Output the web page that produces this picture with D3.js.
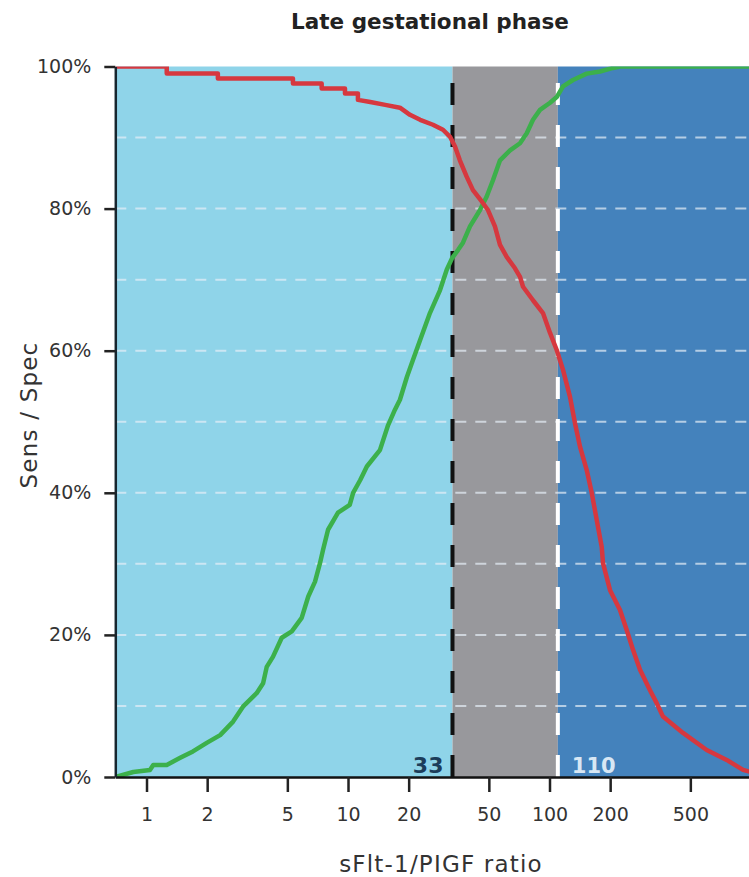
<!DOCTYPE html>
<html>
<head>
<meta charset="utf-8">
<script src="https://cdn.jsdelivr.net/npm/d3@7"></script>
<style>
  html, body { margin: 0; padding: 0; background: #fff; }
  svg { display: block; font-family: "DejaVu Sans", Verdana, sans-serif; }
</style>
</head>
<body>
<div id="chart"></div>
<script>
// values: sFlt-1/PlGF cut-off vs. share (%)
const redRatio = [0.7, 1.26, 1.26, 2.26, 2.26, 5.33, 5.33, 7.40, 7.40, 9.66, 9.66, 11.2, 11.2, 12.9, 15.3, 18.1, 20.3, 22.8, 26.4, 29.6,
  32.1, 34.0, 35.9, 38.8, 41.7, 46.1, 49.5, 53.6, 56.8, 61.3, 67.4, 71.4, 73.9, 82.8, 92.8, 100.6, 108.6, 116.7, 126.4, 133.8,
  141.7, 153.0, 162.0, 171.5, 181.6, 184.3, 199.7, 223.8, 241.6, 259.7, 281.3, 315.3, 340.4, 365.8, 459.8, 602.7, 757.6, 912.9, 1000]
const redPct = [100, 100, 99.0, 99.0, 98.3, 98.3, 97.6, 97.6, 96.9, 96.9, 96.2, 96.2, 95.3, 95.0, 94.6, 94.2, 93.2, 92.5, 91.8, 91.1,
  90.1, 88.7, 86.8, 84.5, 82.6, 81.0, 79.8, 77.5, 74.9, 73.2, 71.6, 70.4, 69.0, 67.1, 65.3, 62.5, 60.1, 57.3, 53.5, 49.8,
  46.5, 43.2, 40.0, 36.2, 32.4, 30.1, 26.3, 23.5, 20.7, 17.9, 15.1, 12.2, 10.4, 8.5, 6.2, 3.8, 2.4, 1.0, 0.7]

const greenRatio = [0.7, 0.86, 1.04, 1.08, 1.26, 1.47, 1.70, 1.99, 2.32, 2.69, 3.01, 3.52, 3.79, 3.95, 4.24, 4.69, 5.26, 5.89, 6.35, 6.86,
  7.26, 7.51, 7.96, 8.92, 10.2, 10.6, 11.5, 12.4, 14.4, 15.8, 17.1, 18.1, 19.6, 21.0, 22.8, 25.5, 28.6, 30.9, 32.8, 35.2,
  37.2, 40.3, 45.2, 48.8, 52.4, 56.8, 63.7, 71.4, 77.1, 82.8, 89.7, 100.6, 108.6, 116.7, 130.8, 153.0, 178.1, 206.6, 224, 1000]
const greenPct = [0, 0.7, 1.0, 1.7, 1.7, 2.7, 3.6, 4.8, 5.9, 7.8, 9.9, 11.8, 13.2, 15.5, 16.9, 19.6, 20.5, 22.4, 25.4, 27.5,
  30.1, 31.9, 34.8, 37.2, 38.3, 40.0, 41.8, 43.7, 46.0, 49.5, 51.7, 53.1, 56.3, 58.7, 61.5, 65.3, 68.5, 71.4, 73.0, 74.2,
  75.2, 77.5, 79.8, 81.7, 84.0, 86.8, 88.2, 89.2, 90.6, 92.5, 93.9, 94.9, 95.7, 97.2, 98.1, 99.0, 99.3, 99.8, 100, 100]

const cutoffs = [33, 110]
const xTicks = [1, 2, 5, 10, 20, 50, 100, 200, 500]
const yTicks = [0, 20, 40, 60, 80, 100]
const yGrid = [10, 20, 30, 40, 50, 60, 70, 80, 90]
const xDomain = [0.7, 1000]

const W = 749, H = 877
const MARGIN = { top: 66.5, right: -2, bottom: 100, left: 115.3 }
const innerW = W - MARGIN.left - MARGIN.right
const innerH = H - MARGIN.top - MARGIN.bottom

const ZONE_COLORS = ['#8fd4e9', '#98989c', '#4482bc']

const svg = d3.select('#chart').append('svg')
  .attr('width', W).attr('height', H)
  .attr('viewBox', `0 0 ${W} ${H}`)

const x = d3.scaleLog().domain(xDomain).range([0, innerW])
const y = d3.scaleLinear().domain([0, 100]).range([innerH, 0])

const g = svg.append('g').attr('transform', `translate(${MARGIN.left},${MARGIN.top})`)

g.append('clipPath').attr('id', 'plot-clip')
  .append('rect').attr('width', innerW).attr('height', innerH)

// background zones: below 33, 33-110, above 110
const bounds = [xDomain[0], ...cutoffs, xDomain[1]]
g.selectAll('rect.zone')
  .data(d3.pairs(bounds))
  .join('rect')
  .attr('class', 'zone')
  .attr('x', d => x(d[0]))
  .attr('width', d => x(d[1]) - x(d[0]))
  .attr('y', 0)
  .attr('height', innerH)
  .attr('fill', (_, i) => ZONE_COLORS[i])

// dashed horizontal grid
g.selectAll('line.grid')
  .data(yGrid)
  .join('line')
  .attr('class', 'grid')
  .attr('x1', 0).attr('x2', innerW)
  .attr('y1', d => y(d)).attr('y2', d => y(d))
  .attr('stroke', '#e6eef6')
  .attr('stroke-opacity', 0.7)
  .attr('stroke-width', 2)
  .attr('stroke-dasharray', '11,9')

// cut-off lines
g.selectAll('line.cut')
  .data(cutoffs)
  .join('line')
  .attr('class', 'cut')
  .attr('x1', d => x(d)).attr('x2', d => x(d))
  .attr('y1', innerH).attr('y2', 0)
  .attr('stroke', (_, i) => i === 0 ? '#111' : '#fff')
  .attr('stroke-width', 4)
  .attr('stroke-dasharray', '22,20')

const line = d3.line()
  .x(d => x(d[0]))
  .y(d => y(d[1]))

const curves = g.append('g').attr('clip-path', 'url(#plot-clip)')
curves.append('path')
  .datum(d3.zip(greenRatio, greenPct))
  .attr('fill', 'none')
  .attr('stroke', '#3cb04b')
  .attr('stroke-width', 4.5)
  .attr('stroke-linejoin', 'round')
  .attr('d', line)
curves.append('path')
  .datum(d3.zip(redRatio, redPct))
  .attr('fill', 'none')
  .attr('stroke', '#d6383f')
  .attr('stroke-width', 4.5)
  .attr('stroke-linejoin', 'round')
  .attr('d', line)

// cut-off labels
g.append('text')
  .attr('x', x(cutoffs[0]) - 9).attr('y', innerH - 4)
  .attr('text-anchor', 'end')
  .attr('font-size', 22).attr('font-weight', 'bold')
  .attr('fill', '#1c3d5a')
  .text(cutoffs[0])
g.append('text')
  .attr('x', x(cutoffs[1]) + 14).attr('y', innerH - 4)
  .attr('font-size', 21).attr('font-weight', 'bold')
  .attr('fill', '#d8e7f4')
  .text(cutoffs[1])

// axes
const xAxis = d3.axisBottom(x)
  .tickValues(xTicks)
  .tickFormat(d3.format('d'))
  .tickSize(15)
  .tickPadding(16)
  .tickSizeOuter(0)
g.append('g')
  .attr('transform', `translate(0,${innerH})`)
  .call(xAxis)
  .call(a => a.select('.domain').attr('stroke', '#111').attr('stroke-width', 2.5))
  .call(a => a.selectAll('.tick line').attr('stroke', '#222').attr('stroke-width', 2.5))
  .call(a => a.selectAll('text').attr('fill', '#333').attr('font-size', 19)
    .attr('font-family', '"DejaVu Sans", Verdana, sans-serif'))

const yAxis = d3.axisLeft(y)
  .tickValues(yTicks)
  .tickFormat(d => d + '%')
  .tickSize(11)
  .tickPadding(13)
  .tickSizeOuter(0)
g.append('g')
  .call(yAxis)
  .call(a => a.select('.domain').attr('stroke', '#17262f').attr('stroke-width', 2.5))
  .call(a => a.selectAll('.tick line').attr('stroke', '#222').attr('stroke-width', 2.5))
  .call(a => a.selectAll('text').attr('fill', '#333').attr('font-size', 19)
    .attr('font-family', '"DejaVu Sans", Verdana, sans-serif'))

// titles
svg.append('text')
  .attr('x', 430).attr('y', 29)
  .attr('text-anchor', 'middle')
  .attr('font-size', 21.5).attr('font-weight', 'bold')
  .attr('fill', '#222')
  .text('Late gestational phase')

svg.append('text')
  .attr('x', 441).attr('y', 872)
  .attr('text-anchor', 'middle')
  .attr('font-size', 23).attr('letter-spacing', 1.2)
  .attr('fill', '#333')
  .text('sFlt-1/PIGF ratio')

svg.append('text')
  .attr('transform', 'translate(37,415) rotate(-90)')
  .attr('text-anchor', 'middle')
  .attr('font-size', 23).attr('letter-spacing', 1.2)
  .attr('fill', '#333')
  .text('Sens / Spec')
</script>
</body>
</html>
